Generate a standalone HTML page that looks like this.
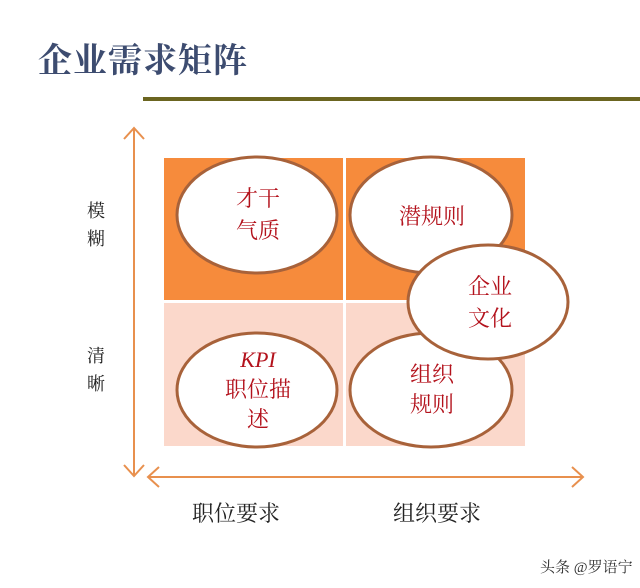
<!DOCTYPE html>
<html><head><meta charset="utf-8"><style>
html,body{margin:0;padding:0;background:#fff;}
svg{display:block;}
text{font-family:"Liberation Serif","Noto Serif CJK SC",serif;}
</style></head><body>
<svg width="640" height="588" viewBox="0 0 640 588" xmlns="http://www.w3.org/2000/svg">
<text x="38" y="72" font-size="34" fill="#3d4c70" font-weight="bold" letter-spacing="1">企业需求矩阵</text>
<rect x="143" y="97" width="497" height="4" fill="#6b6520"/>
<rect x="164" y="158" width="179" height="142" fill="#f68b3c"/>
<rect x="346" y="158" width="179" height="142" fill="#f68b3c"/>
<rect x="164" y="303" width="179" height="143" fill="#fbd8cb"/>
<rect x="346" y="303" width="179" height="143" fill="#fbd8cb"/>
<g stroke="#e8904e" stroke-width="2" fill="none">
<line x1="134" y1="128" x2="134" y2="476"/>
<polyline points="124,139 134,128 144,139"/>
<polyline points="124,465 134,476 144,465"/>
<line x1="148" y1="477" x2="583" y2="477"/>
<polyline points="159,467 148,477 159,487"/>
<polyline points="572,467 583,477 572,487"/>
</g>
<g fill="#fff" stroke="#a8623a" stroke-width="3">
<ellipse cx="257" cy="215" rx="80" ry="58"/>
<ellipse cx="431" cy="215" rx="81" ry="58"/>
<ellipse cx="257" cy="390" rx="80" ry="57"/>
<ellipse cx="431" cy="390" rx="81" ry="57"/>
<ellipse cx="488" cy="302" rx="80" ry="57"/>
</g>
<g fill="#b3121c" font-size="22" text-anchor="middle">
<text x="258" y="206">才干</text>
<text x="258" y="238">气质</text>
<text x="432" y="224">潜规则</text>
<text x="490" y="294">企业</text>
<text x="490" y="326">文化</text>
<text x="258" y="367" font-style="italic" font-family="Liberation Sans,sans-serif">KPI</text>
<text x="258" y="397">职位描</text>
<text x="258" y="427">述</text>
<text x="432" y="382">组织</text>
<text x="432" y="412">规则</text>
</g>
<g fill="#222" font-size="18" text-anchor="middle">
<text x="96" y="217">模</text>
<text x="96" y="245">糊</text>
<text x="96" y="362">清</text>
<text x="96" y="390">晰</text>
</g>
<g fill="#222" font-size="22">
<text x="192" y="521">职位要求</text>
<text x="393" y="521">组织要求</text>
</g>
<text x="540" y="572" font-size="15" fill="#333" font-family="Liberation Sans,Noto Sans CJK SC,sans-serif">头条 @罗语宁</text>
</svg>
</body></html>
